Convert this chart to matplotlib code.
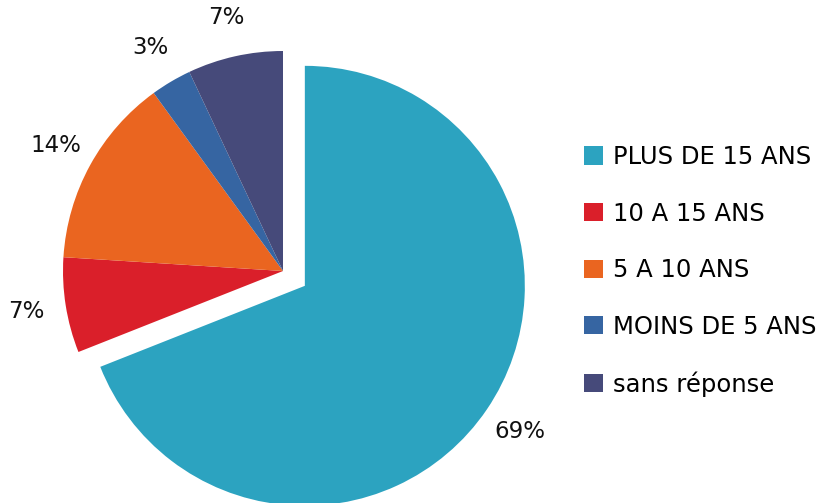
import matplotlib.pyplot as plt

# share of answers by seniority
labels = ["PLUS DE 15 ANS", "10 A 15 ANS", "5 A 10 ANS", "MOINS DE 5 ANS", "sans réponse"]
values = [69, 7, 14, 3, 7]
colors = ["#2CA3C0", "#DA1F2A", "#EA6520", "#3665A2", "#464A7A"]
explode = [0.12, 0, 0, 0, 0]

W, H = 829, 503
R = 220.0          # pie radius in pixels
cx, cy = 283, 271  # pie centre in pixels (from top-left)

fig = plt.figure(figsize=(W / 100, H / 100), dpi=100)
ax = fig.add_axes([0, 0, 1, 1])

wedges, texts, autotexts = ax.pie(
    values,
    colors=colors,
    explode=explode,
    startangle=90,
    counterclock=False,
    autopct="%d%%",
    pctdistance=1.18,
    textprops={"fontsize": 16.5, "color": "#111111"},
)

ax.set_xlim(-cx / R, (W - cx) / R)
ax.set_ylim(-(H - cy) / R, cy / R)
ax.set_aspect("equal")
ax.axis("off")

ax.legend(
    wedges, labels,
    loc="upper left",
    bbox_to_anchor=(584 / W, 1 - 145 / H),
    frameon=False,
    fontsize=17.5,
    handlelength=0.78,
    handleheight=0.78,
    handletextpad=0.42,
    labelspacing=1.34,
    borderaxespad=0,
    borderpad=0,
)

plt.savefig("out.png", dpi=100)
